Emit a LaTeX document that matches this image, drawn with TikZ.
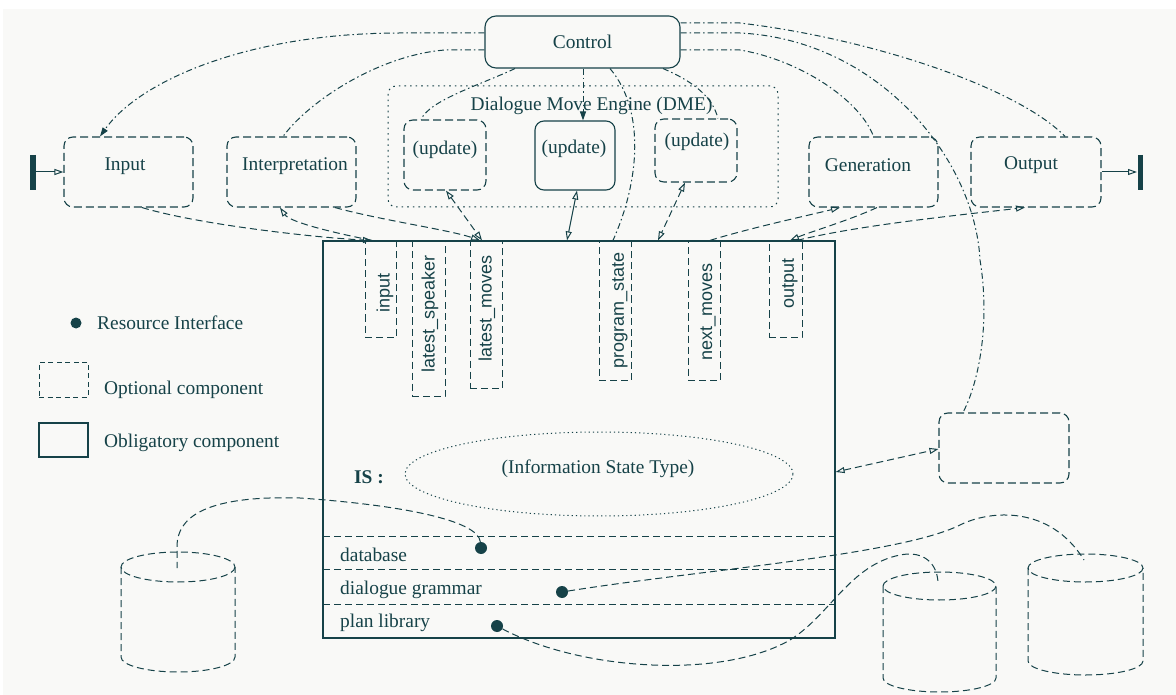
\documentclass[tikz,border=0pt]{standalone}
\usepackage{fontspec}
\setmainfont{Liberation Serif}
\setsansfont{Liberation Sans}
\usetikzlibrary{arrows.meta,shapes.geometric}
\definecolor{ink}{RGB}{22,66,72}
\definecolor{paper}{RGB}{249,249,247}
\tikzset{
  optbox/.style={draw, dash pattern=on 8pt off 4pt, rounded corners=9pt, line width=1.1pt, inner sep=0pt},
  oblbox/.style={draw, rounded corners=9pt, line width=1.1pt, inner sep=0pt},
  slotbox/.style={draw, dash pattern=on 7pt off 4pt, line width=1pt, anchor=north, inner sep=0pt},
  lbl/.style={font=\fontsize{19.4}{23}\selectfont, inner sep=0pt},
  slbl/.style={font=\sffamily\fontsize{18}{21}\selectfont, rotate=90, anchor=east, inner sep=0pt},
  ctl/.style={dash pattern=on 6pt off 3pt on 1.5pt off 3pt, line width=1pt},
  dat/.style={dash pattern=on 7pt off 4pt, line width=1pt},
  dotn/.style={circle, fill=ink, draw=none, inner sep=0pt, minimum size=12pt},
  toO/.style={-{Triangle[open,length=9pt,width=6pt]}},
  frO/.style={{Triangle[open,length=9pt,width=6pt]}-},
  bothO/.style={{Triangle[open,length=9pt,width=6pt]}-{Triangle[open,length=9pt,width=6pt]}},
  toF/.style={-{Triangle[length=9pt,width=6pt]}}
}
\begin{document}
\begin{tikzpicture}[x=1pt,y=-1pt,color=ink]
\useasboundingbox (0,0) rectangle (1176,695);
\fill[white] (0,0) rectangle (1176,695);
\fill[paper] (3,9) rectangle (1176,695);

% ---------- top row ----------
\node[oblbox, rounded corners=11pt, minimum width=195pt, minimum height=52pt, lbl] (ctrl) at (582.5,42) {Control};

\node[draw, dash pattern=on 1.6pt off 4pt, line width=1pt, rounded corners=8pt, minimum width=390pt, minimum height=121pt, inner sep=0pt] (dme) at (583,146.5) {};
\node[lbl] (dmet) at (591.5,106) {Dialogue Move Engine (DME)};

\node[optbox, minimum width=82pt, minimum height=70pt] (upd1) at (445,155) {};
\node[lbl] (upd1t) at (445,150) {(update)};
\node[oblbox, minimum width=80pt, minimum height=69pt] (upd2) at (575,155.5) {};
\node[lbl] (upd2t) at (574,149) {(update)};
\node[optbox, minimum width=82pt, minimum height=63pt] (upd3) at (696,150.5) {};
\node[lbl] (upd3t) at (697,142) {(update)};

\node[optbox, minimum width=129pt, minimum height=70pt] (inp) at (128.5,172) {};
\node[lbl] (inpt) at (125,166) {Input};
\node[optbox, minimum width=129pt, minimum height=70pt] (itp) at (291.5,172) {};
\node[lbl] (itpt) at (295,166) {Interpretation};
\node[optbox, minimum width=129pt, minimum height=70pt] (gen) at (873.5,172) {};
\node[lbl] (gent) at (868,165) {Generation};
\node[optbox, minimum width=130pt, minimum height=70pt] (outp) at (1036,172) {};
\node[lbl] (outpt) at (1031,165) {Output};

% terminals
\draw[line width=6pt] (33,155) -- (33,190);
\coordinate (tl) at (36,172);
\draw[line width=5pt] (1140,155) -- (1140,190);
\coordinate (tr) at (1137,172);
\draw[line width=1pt, toO] (tl) -- (inp.west);
\draw[line width=1pt, toO] (outp.east) -- (tr);

% ---------- IS box ----------
\node[draw, line width=1.2pt, minimum width=512pt, minimum height=397pt, inner sep=0pt] (is) at (579,439.5) {};

\node[slotbox, minimum width=31pt, minimum height=96pt] (sInp) at (380.5,241) {};
\node[slbl] (sInpt) at (385,273) {input};
\node[slotbox, minimum width=33pt, minimum height=155pt] (sSpk) at (428.5,241) {};
\node[slbl] (sSpkt) at (430,255) {latest\_speaker};
\node[slotbox, minimum width=32pt, minimum height=147pt] (sLM) at (486,241) {};
\node[slbl] (sLMt) at (487,255) {latest\_moves};
\node[slotbox, minimum width=32pt, minimum height=139pt] (sPS) at (615,241) {};
\node[slbl] (sPSt) at (620,252) {program\_state};
\node[slotbox, minimum width=32pt, minimum height=139pt] (sNM) at (704,241) {};
\node[slbl] (sNMt) at (708,263) {next\_moves};
\node[slotbox, minimum width=33pt, minimum height=96pt] (sOut) at (785.5,241) {};
\node[slbl] (sOutt) at (790,258) {output};

\node[ellipse, draw, dash pattern=on 1.2pt off 3pt, line width=1pt, minimum width=388pt, minimum height=84pt, inner sep=0pt] (ist) at (599,474) {};
\node[lbl] (istt) at (598,469) {(Information State Type)};
\node[lbl, font=\bfseries\fontsize{19.4}{23}\selectfont] (isl) at (369,477) {IS :};

\draw[dat] (323,536) -- (835,536);
\draw[dat] (323,569) -- (835,569);
\draw[dat] (323,604) -- (835,604);
\node[lbl, anchor=west] (dbt) at (340,555) {database};
\node[lbl, anchor=west] (dgt) at (340,590) {dialogue grammar};
\node[lbl, anchor=west] (plt) at (340,623) {plan library};
\node[dotn] (db) at (481,548) {};
\node[dotn] (dg) at (562,592) {};
\node[dotn] (pl) at (497,626) {};

% right small box
\node[optbox, minimum width=130pt, minimum height=70pt] (rbox) at (1004,448) {};

% ---------- legend ----------
\node[dotn, minimum size=11pt] (ldot) at (76,323) {};
\node[lbl, anchor=west] (lres) at (97,323) {Resource Interface};
\node[draw, dash pattern=on 5pt off 3.5pt, line width=1pt, minimum width=49pt, minimum height=35pt, inner sep=0pt] (lopt) at (63.5,379.5) {};
\node[lbl, anchor=west] (loptt) at (104,390) {Optional component};
\node[draw, line width=1.1pt, minimum width=49pt, minimum height=34pt, inner sep=0pt] (lobl) at (63.5,440) {};
\node[lbl, anchor=west] (loblt) at (104,443) {Obligatory component};

% ---------- cylinders ----------
\draw[dat] (178,567) ellipse [x radius=57, y radius=15];
\draw[dat] (121,567) -- (121,657) arc[start angle=180, end angle=0, x radius=57, y radius=15] -- (235,567);
\coordinate (cylL) at (177,568);
\draw[dat] (939.5,586) ellipse [x radius=56.5, y radius=14];
\draw[dat] (883,586) -- (883,678) arc[start angle=180, end angle=0, x radius=56.5, y radius=14] -- (996,586);
\coordinate (cylM) at (938,584);
\draw[dat] (1085.5,568) ellipse [x radius=57.5, y radius=14];
\draw[dat] (1028,568) -- (1028,661) arc[start angle=180, end angle=0, x radius=57.5, y radius=14] -- (1143,568);
\coordinate (cylR) at (1084,560);

% ---------- control connectors ----------
\draw[ctl, toF] ([yshift=9pt]ctrl.west) -- (400,33) .. controls (250,33) and (140,80) .. ([xshift=-28.5pt]inp.north);
\draw[ctl] ([yshift=-8pt]ctrl.west) -- (445,50) .. controls (380,55) and (310,100) .. ([xshift=-8.5pt]itp.north);
\draw[ctl] ([xshift=-67.5pt]ctrl.south) .. controls (480,85) and (430,100) .. ([xshift=-24pt]upd1.north);
\draw[ctl, toF] ([xshift=0.5pt]ctrl.south) -- ([xshift=0.5pt]ctrl.south |- upd2.north);
\draw[ctl] ([xshift=27.5pt]ctrl.south) .. controls (645,110) and (640,180) .. ([xshift=34pt]is.north);
\draw[ctl] ([xshift=80.5pt]ctrl.south) .. controls (690,80) and (712,95) .. ([xshift=22pt]upd3.north);
\draw[ctl] ([yshift=-8pt]ctrl.east) -- (740,50) .. controls (800,60) and (860,100) .. (gen.north);
\draw[ctl] ([yshift=19pt]ctrl.east) -- (740,23) .. controls (880,40) and (1020,90) .. ([xshift=29pt]outp.north);
\draw[ctl] ([yshift=9pt]ctrl.east) -- (740,33) .. controls (880,40) and (975,160) .. (980,260) .. controls (990,320) and (980,380) .. ([xshift=-41pt]rbox.north);

% ---------- data connectors ----------
\draw[dat, toO] ([xshift=13.5pt]inp.south) .. controls (200,225) and (320,238) .. ([xshift=-207pt]is.north);
\draw[dat, toO] ([xshift=-207pt]is.north) .. controls (330,232) and (290,222) .. ([xshift=-11.5pt]itp.south);
\draw[dat, toO] ([xshift=43.5pt]itp.south) .. controls (380,220) and (450,230) .. ([xshift=-99pt]is.north);
\draw[dat, bothO] ([xshift=1pt]upd1.south) -- ([xshift=-97pt]is.north);
\draw[line width=1pt, bothO] ([xshift=2pt]upd2.south) -- ([xshift=-12pt]is.north);
\draw[dat, bothO] ([xshift=-11pt]upd3.south) -- ([xshift=79pt]is.north);
\draw[dat, toO] ([xshift=131pt]is.north) .. controls (750,228) and (810,215) .. ([xshift=-33.5pt]gen.south);
\draw[dat, toO] ([xshift=3.5pt]gen.south) .. controls (850,220) and (810,232) .. ([xshift=211pt]is.north);
\draw[dat, toO] ([xshift=218pt]is.north) .. controls (860,225) and (960,215) .. ([xshift=-11pt]outp.south);
\draw[dat, bothO] ([yshift=-32.5pt]is.east) -- ([yshift=-1pt]rbox.west);

% ---------- resource connectors ----------
\draw[dat] (db) .. controls (478,520) and (400,505) .. (300,498) .. controls (200,495) and (178,520) .. (177,545) -- (cylL);
\draw[dat] (dg) .. controls (700,570) and (900,555) .. (960,525) .. controls (990,510) and (1050,505) .. (cylR);
\draw[dat] (pl) .. controls (580,670) and (720,680) .. (790,640) .. controls (830,615) and (850,565) .. (900,555) .. controls (925,550) and (938,565) .. (cylM);
\end{tikzpicture}
\end{document}
